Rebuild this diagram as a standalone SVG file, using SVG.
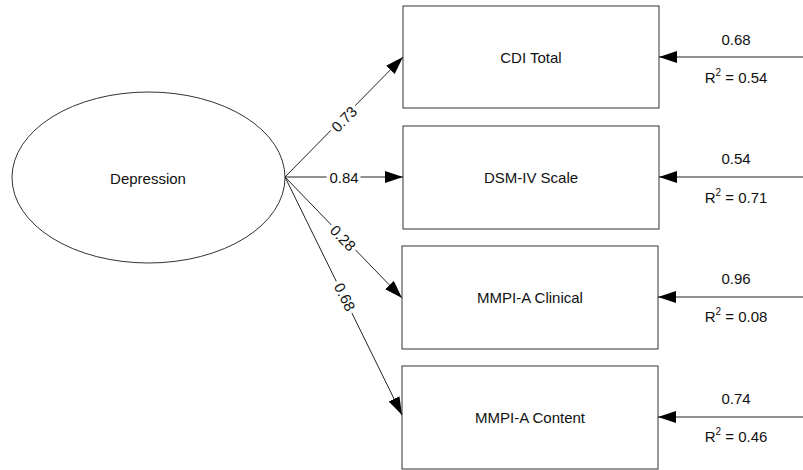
<svg xmlns="http://www.w3.org/2000/svg" width="803" height="470" viewBox="0 0 803 470">
<style>
.t{font-family:"Liberation Sans",Arial,sans-serif;font-size:15px;fill:#111;text-anchor:middle;dominant-baseline:central}
.box{fill:#fff;stroke:#333;stroke-width:1}
.c{stroke:#222;stroke-width:1;fill:none;marker-end:url(#ah)}
.lab{paint-order:stroke;stroke:#fff;stroke-width:7px;stroke-linejoin:round}
</style>
<defs>
<marker id="ah" markerUnits="userSpaceOnUse" markerWidth="18" markerHeight="12" viewBox="0 0 18 12" refX="18" refY="6" orient="auto">
<path d="M0,0 L18,6 L0,12 Z" fill="#000"/>
</marker>
</defs>
<rect width="803" height="470" fill="#fff"/>
<g id="depression">
<ellipse cx="148.5" cy="177.5" rx="136.5" ry="85.5" class="box"/>
<text class="t" x="148" y="178">Depression</text>
</g>
<g id="cdi">
<rect class="box" x="403" y="6" width="256" height="102"/>
<text class="t" x="531" y="57">CDI Total</text>
</g>
<g id="dsm">
<rect class="box" x="403" y="126" width="256" height="103"/>
<text class="t" x="531" y="177">DSM-IV Scale</text>
</g>
<g id="clinical">
<rect class="box" x="402" y="246" width="256" height="103"/>
<text class="t" x="530" y="297">MMPI-A Clinical</text>
</g>
<g id="content">
<rect class="box" x="402" y="366" width="256" height="103"/>
<text class="t" x="530" y="417">MMPI-A Content</text>
</g>
<g id="connectors">
<line class="c" x1="285" y1="177" x2="403" y2="57"/>
<line class="c" x1="285" y1="177" x2="403" y2="177"/>
<line class="c" x1="285" y1="177" x2="402" y2="298"/>
<line class="c" x1="285" y1="177" x2="402" y2="415"/>
<line class="c" x1="803" y1="57" x2="659" y2="57"/>
<line class="c" x1="803" y1="177" x2="659" y2="177"/>
<line class="c" x1="803" y1="297" x2="658" y2="297"/>
<line class="c" x1="803" y1="417" x2="658" y2="417"/>
<text class="t lab" transform="translate(344,119) rotate(-45.5)">0.73</text>
<text class="t lab" x="344" y="177">0.84</text>
<text class="t lab" transform="translate(343,238) rotate(46)">0.28</text>
<text class="t lab" transform="translate(345,297) rotate(63.6)">0.68</text>
<text class="t" x="736" y="39">0.68</text>
<text class="t" x="736" y="77">R<tspan font-size="10" dy="-5">2</tspan><tspan dy="5"> = 0.54</tspan></text>
<text class="t" x="736" y="158">0.54</text>
<text class="t" x="736" y="197">R<tspan font-size="10" dy="-5">2</tspan><tspan dy="5"> = 0.71</tspan></text>
<text class="t" x="736" y="278">0.96</text>
<text class="t" x="736" y="316">R<tspan font-size="10" dy="-5">2</tspan><tspan dy="5"> = 0.08</tspan></text>
<text class="t" x="736" y="398">0.74</text>
<text class="t" x="736" y="436">R<tspan font-size="10" dy="-5">2</tspan><tspan dy="5"> = 0.46</tspan></text>
</g>
</svg>
